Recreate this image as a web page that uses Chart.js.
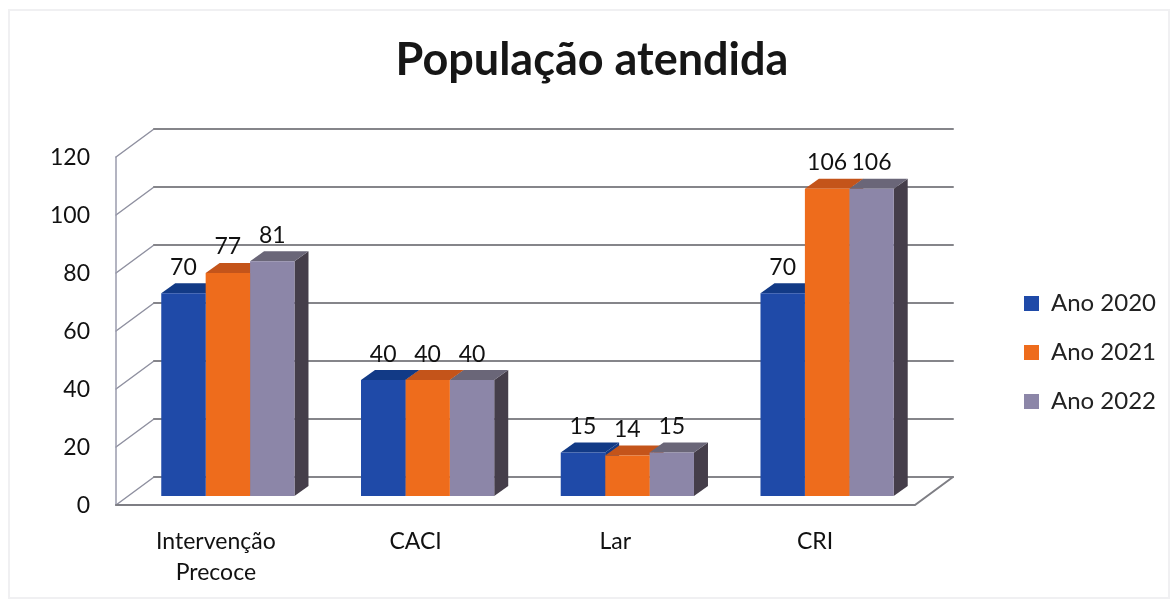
<!DOCTYPE html>
<html><head><meta charset="utf-8">
<style>html,body{margin:0;padding:0;background:#fff}#w{width:1171px;height:603px;position:relative}</style>
<script src="https://cdn.jsdelivr.net/npm/chart.js@4"></script>
</head><body><div id="w"><canvas id="c" width="1171" height="603"></canvas></div>
<script>
const categories = [['Intervenção','Precoce'],'CACI','Lar','CRI'];
const ano2020 = [70,40,15,70];
const ano2021 = [77,40,14,106];
const ano2022 = [81,40,15,106];
const seriesNames = ['Ano 2020','Ano 2021','Ano 2022'];
const frontColors = ['#1f4aa8','#ee6c1c','#8c86a8'];
const topColors = ['#123a86','#c4541a','#6a6678'];
const sideColors = ['#123a86','#b34e15','#453e4a'];
const FONT = 'Lato, Carlito, sans-serif';
const DX = 14, DY = 10, WX = 38, WY = 28;

const scene = {
  id:'scene',
  afterLayout(chart){
    const l = chart.legend;
    l.top += 51; l.bottom += 51; l.left += 10; l.right += 10;
  },
  beforeDatasetsDraw(chart){
    const c = chart.ctx, a = chart.chartArea, yl = chart.scales.y, yb = chart.scales.yb;
    const L = a.left - 12, R = a.right - 12, y0 = yl.getPixelForValue(0);
    c.save();
    c.strokeStyle='#f0f0f2'; c.lineWidth=2;
    c.strokeRect(9,10,1160,588);
    c.lineCap='round';
    yl.ticks.forEach(t=>{
      const y = yl.getPixelForValue(t.value);
      c.strokeStyle='#8f90a0'; c.lineWidth=1.5;
      c.beginPath(); c.moveTo(L,y); c.lineTo(L+WX,y-WY); c.stroke();
      c.strokeStyle='#85858a'; c.lineWidth=2;
      c.beginPath(); c.moveTo(L+WX,y-WY); c.lineTo(R+WX,y-WY); c.stroke();
    });
    c.strokeStyle='#9a9bad'; c.lineWidth=1.5;
    c.beginPath(); c.moveTo(L,yl.getPixelForValue(120)); c.lineTo(L,y0); c.stroke();
    c.strokeStyle='#7e7e84'; c.lineWidth=2;
    c.beginPath(); c.moveTo(L,y0); c.lineTo(R,y0); c.lineTo(R+WX,y0-WY); c.stroke();
    const metas = chart.getSortedVisibleDatasetMetas();
    categories.forEach((_,i)=>{
      metas.forEach((m,s)=>{
        const b = m.data[i], h=b.getProps(['x','y','base','width'],false);
        const l=h.x-h.width/2, r=h.x+h.width/2, base=yb.getPixelForValue(0);
        c.fillStyle=sideColors[s];
        c.beginPath(); c.moveTo(r,h.y); c.lineTo(r+DX,h.y-DY); c.lineTo(r+DX,base-DY); c.lineTo(r,base); c.closePath(); c.fill();
        c.fillStyle=topColors[s];
        c.beginPath(); c.moveTo(l,h.y); c.lineTo(l+DX,h.y-DY); c.lineTo(r+DX,h.y-DY); c.lineTo(r,h.y); c.closePath(); c.fill();
      });
    });
    c.restore();
  },
  afterDatasetsDraw(chart){
    const c = chart.ctx;
    c.save();
    c.font='23px '+FONT; c.fillStyle='#111'; c.textAlign='center'; c.textBaseline='middle';
    chart.getSortedVisibleDatasetMetas().forEach((m,s)=>{
      m.data.forEach((b,i)=>{
        const v = chart.data.datasets[s].data[i];
        c.fillText(String(v), b.x, b.y-26);
      });
    });
    c.restore();
  }
};

new Chart(document.getElementById('c'),{
  type:'bar',
  data:{labels:categories,datasets:[ano2020,ano2021,ano2022].map((d,i)=>({
    label:seriesNames[i],data:d,backgroundColor:frontColors[i],borderWidth:0,yAxisID:'yb',
    barPercentage:1,categoryPercentage:0.667
  }))},
  plugins:[scene],
  options:{
    responsive:false,animation:false,
    layout:{padding:{left:28,right:15,top:0,bottom:0}},
    plugins:{
      tooltip:{enabled:false},
      title:{display:true,text:'População atendida',color:'#161616',
        font:{family:FONT,size:45,weight:'bold',lineHeight:1.2},padding:{top:33,bottom:41}},
      legend:{position:'right',align:'center',
        labels:{color:'#222',font:{family:FONT,size:24},boxWidth:15,boxHeight:15,padding:25}}
    },
    scales:{
      x:{type:'category',offset:true,grid:{display:false},border:{display:false},
        afterFit(s){s.height=98;},
        ticks:{color:'#111',font:{family:FONT,size:23,lineHeight:1.35},labelOffset:-12,padding:13,maxRotation:0,autoSkip:false}},
      y:{position:'left',min:0,max:130,grid:{display:false},border:{display:false},
        afterFit(s){s.width=100;},
        ticks:{stepSize:20,includeBounds:false,color:'#111',font:{family:FONT,size:23},padding:30,labelOffset:1}},
      yb:{position:'right',min:-3.1,max:127,grid:{display:false},border:{display:false},
        afterFit(s){s.width=62;},ticks:{display:false}}
    }
  }
});
</script></body></html>
